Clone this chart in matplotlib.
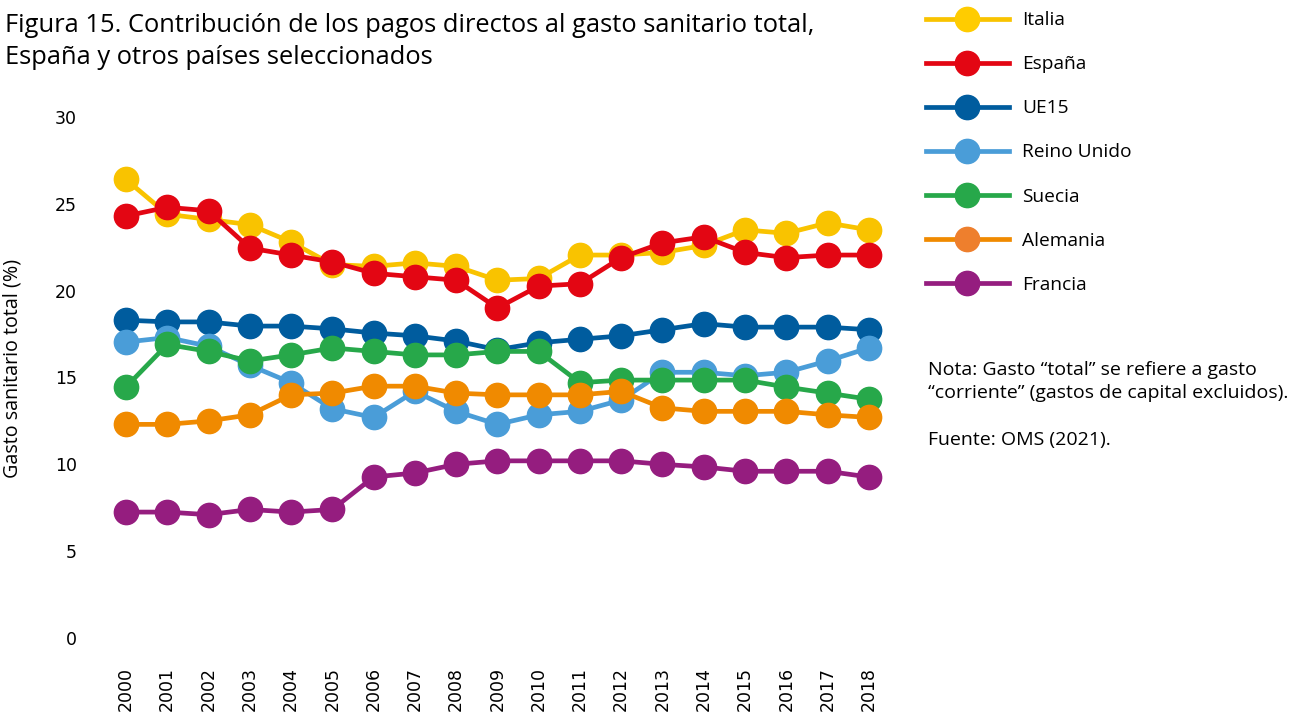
import matplotlib
matplotlib.use("Agg")
import matplotlib.pyplot as plt
from matplotlib.lines import Line2D

plt.rcParams['font.family'] = ['Open Sans', 'DejaVu Sans']

years = list(range(2000, 2019))

italia = [26.4, 24.4, 24.1, 23.8, 22.8, 21.5, 21.4, 21.6, 21.4, 20.6, 20.7,
          22.05, 22.05, 22.2, 22.6, 23.5, 23.3, 23.9, 23.5]
espana = [24.3, 24.8, 24.6, 22.45, 22.05, 21.65, 21.0, 20.8, 20.6, 19.0, 20.26,
          20.4, 21.9, 22.75, 23.1, 22.2, 21.9, 22.05, 22.05]
ue15 = [18.3, 18.2, 18.2, 17.96, 17.96, 17.8, 17.56, 17.4, 17.1, 16.6, 17.0,
        17.2, 17.4, 17.75, 18.1, 17.9, 17.9, 17.9, 17.75]
reino_unido = [17.04, 17.3, 16.8, 15.7, 14.7, 13.2, 12.7, 14.2, 13.05, 12.3, 12.85,
               13.05, 13.7, 15.3, 15.3, 15.1, 15.3, 15.95, 16.7]
suecia = [14.45, 16.9, 16.5, 15.95, 16.3, 16.7, 16.5, 16.3, 16.3, 16.5, 16.5,
          14.7, 14.85, 14.85, 14.85, 14.85, 14.45, 14.1, 13.75]
alemania = [12.3, 12.3, 12.5, 12.85, 14.0, 14.1, 14.5, 14.5, 14.1, 14.0, 14.0,
            14.0, 14.2, 13.25, 13.05, 13.05, 13.05, 12.85, 12.7]
francia = [7.25, 7.25, 7.1, 7.4, 7.25, 7.4, 9.27, 9.5, 10.0, 10.2, 10.2,
           10.2, 10.2, 10.0, 9.85, 9.6, 9.6, 9.6, 9.27]

series = [
    ("Italia", italia, "#F9C300", "#FFCC00"),
    ("España", espana, "#E30613", "#E30613"),
    ("UE15", ue15, "#005C9E", "#005C9E"),
    ("Reino Unido", reino_unido, "#4A9DD8", "#4A9DD8"),
    ("Suecia", suecia, "#27A84A", "#27A84A"),
    ("Alemania", alemania, "#F08A00", "#EE7F2D"),
    ("Francia", francia, "#951D7F", "#951D7F"),
]

yticks = [0, 5, 10, 15, 20, 25, 30]

fig = plt.figure(figsize=(12.99, 7.15), dpi=100)
ax = fig.add_axes([0.0811, 0.1077, 0.6036, 0.7287])

handles = []
for name, vals, col, lcol in series:
    ax.plot(years, vals, color=col, lw=3.4, marker='o', ms=17.5, mec=col, mfc=col,
            clip_on=False, solid_capstyle='butt')
    handles.append(Line2D([0], [0], color=col, lw=3.4, marker='o', ms=17.5,
                          mfc=lcol, mec=lcol))

ax.set_xlim(1999.5, 2018.5)
ax.set_ylim(0, 30)
ax.set_yticks(yticks)
ax.set_yticklabels([str(t) for t in yticks], family='DejaVu Sans')
ax.set_xticks(years)
ax.set_xticklabels([str(y) for y in years], rotation=90, family='DejaVu Sans')
for s in ax.spines.values():
    s.set_visible(False)
ax.tick_params(axis='both', length=0, labelsize=12.5, colors='black')
ax.tick_params(axis='y', pad=20.5)
ax.tick_params(axis='x', pad=21)
ax.set_ylabel("Gasto sanitario total (%)", fontsize=14.2)
ax.yaxis.set_label_coords(-0.106, 0.518)

fig.text(0.004, 0.982, "Figura 15. Contribución de los pagos directos al gasto sanitario total,\nEspaña y otros países seleccionados",
         fontsize=18.4, va='top', ha='left', linespacing=1.38)

fig.legend(handles, [s[0] for s in series], loc='upper left',
           bbox_to_anchor=(0.7069, 0.995), frameon=False, fontsize=13.8,
           handlelength=4.33, handletextpad=0.68, labelspacing=1.36,
           borderaxespad=0)

fig.text(0.7145, 0.495, "Nota: Gasto “total” se refiere a gasto\n“corriente” (gastos de capital excluidos).\n\nFuente: OMS (2021).",
         fontsize=14, va='top', ha='left', linespacing=1.38)

fig.savefig("out.png", dpi=100)
